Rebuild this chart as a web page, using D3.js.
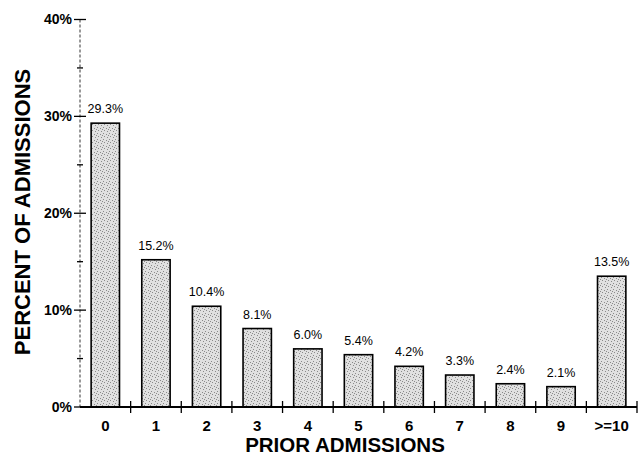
<!DOCTYPE html>
<html><head><meta charset="utf-8">
<script src="https://cdn.jsdelivr.net/npm/d3@7"></script>
<style>body{margin:0;background:#fff}svg{display:block}</style>
</head><body>
<script>
const categories = ["0","1","2","3","4","5","6","7","8","9",">=10"];
const values = [29.3,15.2,10.4,8.1,6.0,5.4,4.2,3.3,2.4,2.1,13.5];
const yTicks = [0,10,20,30,40];
const yMinorTicks = [5,15,25,35];

const W=640,H=457;
const svg=d3.select("body").append("svg").attr("width",W).attr("height",H);
const defs=svg.append("defs");
const pat=defs.append("pattern").attr("id","stip").attr("patternUnits","userSpaceOnUse").attr("width",6).attr("height",6);
pat.append("rect").attr("width",6).attr("height",6).attr("fill","#e0e0e0");
[[1,1],[4,2],[2,4],[5,5],[0,3]].forEach(([a,b])=>pat.append("rect").attr("x",a).attr("y",b).attr("width",1).attr("height",1).attr("fill","#8a8a8a"));

const font="Liberation Sans, Arial, sans-serif";
const x=d3.scaleBand().domain(categories).range([80,637]).paddingInner(0.44).paddingOuter(0.22);
const y=d3.scaleLinear().domain([0,40]).range([407,19.5]);

svg.append("line").attr("x1",80).attr("x2",80).attr("y1",y(40)).attr("y2",y(0))
  .attr("stroke","#333").attr("stroke-width",1).attr("stroke-dasharray","3,2");
svg.selectAll(".ymaj").data(yTicks).join("line")
  .attr("x1",74).attr("x2",86).attr("y1",d=>y(d)).attr("y2",d=>y(d)).attr("stroke","#000").attr("stroke-width",1.3);
svg.selectAll(".ymin").data(yMinorTicks).join("line")
  .attr("x1",77).attr("x2",83).attr("y1",d=>y(d)).attr("y2",d=>y(d)).attr("stroke","#000").attr("stroke-width",1.3);
svg.selectAll(".ylab").data(yTicks).join("text")
  .attr("x",72).attr("y",d=>y(d)).attr("dy","0.35em").attr("text-anchor","end")
  .attr("font-family",font).attr("font-weight","bold").attr("font-size",14)
  .text(d=>d+"%");

svg.selectAll(".bar").data(values).join("rect")
  .attr("x",(d,i)=>x(categories[i])).attr("width",x.bandwidth())
  .attr("y",d=>y(d)).attr("height",d=>y(0)-y(d))
  .attr("fill","url(#stip)").attr("stroke","#000").attr("stroke-width",1.6);
svg.selectAll(".vlab").data(values).join("text")
  .attr("x",(d,i)=>x(categories[i])+x.bandwidth()/2).attr("y",d=>y(d)-10)
  .attr("text-anchor","middle").attr("font-family",font).attr("font-size",12.5)
  .text(d=>d.toFixed(1)+"%");

svg.append("line").attr("x1",80).attr("x2",637).attr("y1",407).attr("y2",407).attr("stroke","#000").attr("stroke-width",2);
const step=x.step();
const bounds=categories.map((c,i)=>80+step*(i+1));
svg.selectAll(".xt").data(bounds).join("line")
  .attr("x1",d=>d).attr("x2",d=>d).attr("y1",401).attr("y2",413).attr("stroke","#000").attr("stroke-width",1.3);
svg.selectAll(".xlab").data(categories).join("text")
  .attr("x",d=>x(d)+x.bandwidth()/2).attr("y",431).attr("text-anchor","middle")
  .attr("font-family",font).attr("font-weight","bold").attr("font-size",15)
  .text(d=>d);

svg.append("text").attr("x",345).attr("y",452).attr("text-anchor","middle")
  .attr("font-family",font).attr("font-weight","bold").attr("font-size",20.5)
  .text("PRIOR ADMISSIONS");
svg.append("text").attr("transform","translate(30,212) rotate(-90)").attr("text-anchor","middle")
  .attr("font-family",font).attr("font-weight","bold").attr("font-size",22)
  .text("PERCENT OF ADMISSIONS");
</script>
</body></html>
